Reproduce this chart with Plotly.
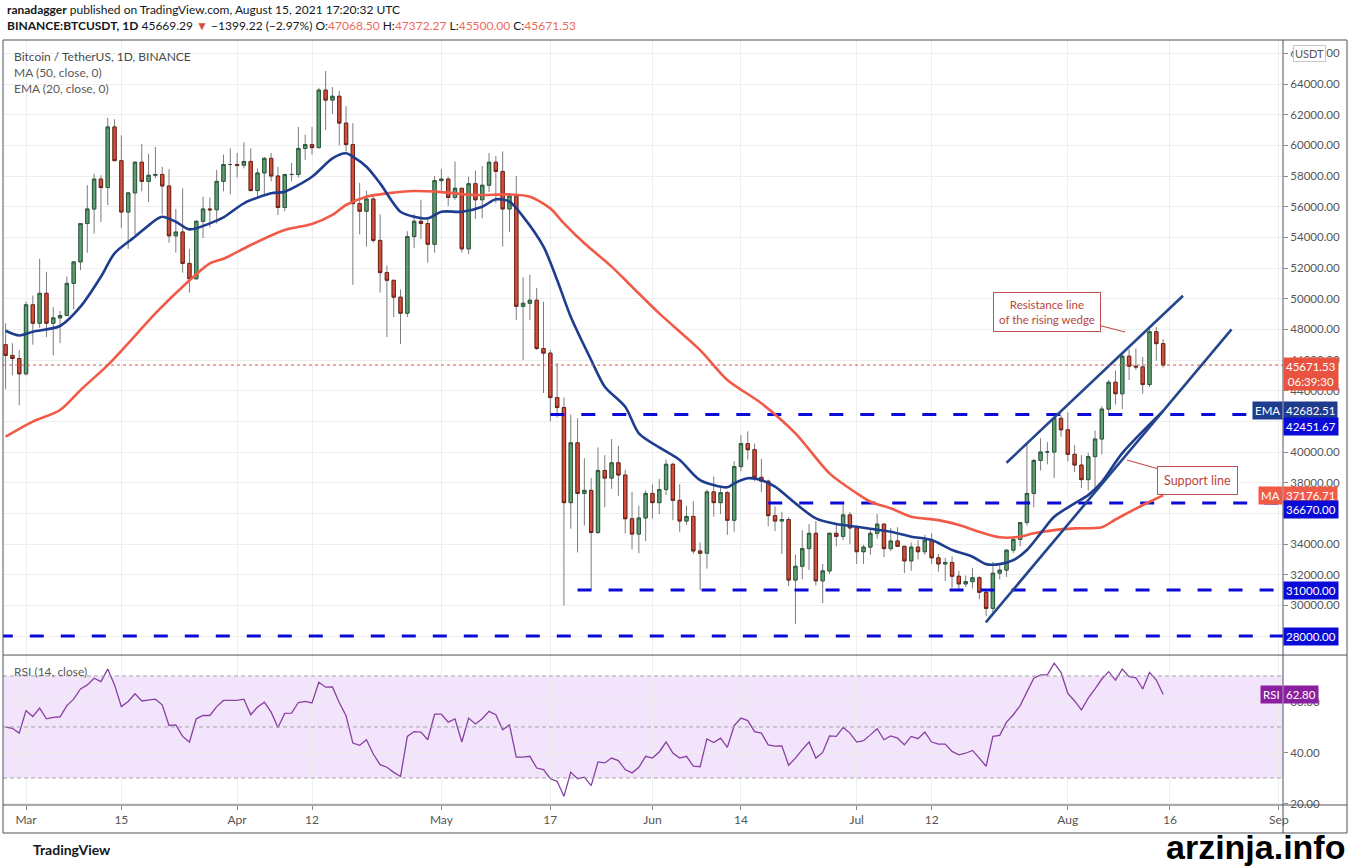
import pandas as pd
import plotly.graph_objects as go

# --- Data: BINANCE:BTCUSDT, 1D, Feb 26 - Aug 15 2021 ---
dates = pd.date_range("2021-02-26", "2021-08-15", freq="D")

opens = [
    47000, 46300, 46100,
    45100, 49600, 48400, 50350, 48400, 48750, 48900, 51000, 52400, 54900, 55850, 57800, 57250, 61200, 59000, 55650,
    56900, 58900, 57650, 58050, 58100, 57350, 54100, 54350, 52300, 51300, 55050, 55850, 55800, 57650, 58750,
    58750, 58700, 58950, 57050, 58200, 59150, 58000, 55950, 58100, 58100, 59800, 60050, 59850, 63600, 62950,
    63200, 61450, 60050, 56200, 55700, 56500, 53800, 51700, 51200, 50100, 49050, 54050, 55050, 54900, 53550,
    57700, 57800, 56600, 57200, 53250, 57500, 56450, 57400, 58900, 58300, 55850, 56700, 49500, 49700, 49900, 46750,
    46450, 43550, 42900, 36700, 40600, 37300, 37500, 34750, 38800, 38300, 39300, 38500, 35650, 34650, 35700,
    37300, 36700, 37550, 39200, 36850, 35500, 35800, 33550, 33400, 37400, 36700, 37350, 35550, 39050, 40550,
    40150, 38350, 38100, 35850, 35500, 35600, 31650, 32550, 33700, 34700, 31600, 32250, 34700, 34500, 35900,
    35050, 33500, 33800, 34700, 35300, 33700, 34200, 33850, 32900, 33800, 33500, 34250, 33100, 32700, 32800, 31900,
    31400, 31550, 31800, 30850, 29800, 32100, 32300, 33600, 34300, 35400, 37300, 39450, 40000, 40000, 42200,
    41450, 39850, 39150, 38200, 39700, 40850, 42800, 44550, 43800, 46250, 45600, 45550, 44400, 47850, 47068.50,
]
highs = [
    48400, 47100, 46650,
    49800, 50200, 52600, 51750, 49450, 49200, 51450, 52400, 54900, 57400, 58150, 58050, 61800, 61700, 60650,
    56950, 58950, 60100, 59450, 59900, 58600, 58450, 55850, 57200, 53250, 55100, 56650, 56600, 58400, 59400, 59800,
    59500, 60200, 59800, 58500, 59250, 59500, 58600, 58150, 58850, 61200, 60700, 61200, 63750, 64850, 63800,
    63550, 62550, 61450, 57550, 57050, 56800, 55500, 52150, 51200, 50600, 54400, 55500, 56450, 55200, 58000,
    58450, 57950, 58950, 57200, 57950, 58350, 58650, 59500, 59300, 59600, 56900, 58000, 51400, 51550, 50700, 49800,
    46650, 45800, 43550, 42450, 42200, 39600, 38300, 40300, 39800, 40850, 40400, 38850, 37400, 36500, 37500,
    37900, 38250, 39500, 39300, 37900, 36500, 36800, 34100, 37550, 38400, 37700, 37450, 39400, 41100, 41350,
    40550, 39550, 38200, 36450, 36100, 35750, 33300, 34900, 35300, 35500, 32700, 34750, 35300, 36600, 36100,
    35050, 33950, 34950, 35950, 35300, 35050, 35100, 33900, 34100, 34250, 34600, 34700, 33350, 33100, 33200, 32250,
    31950, 32450, 31900, 31050, 32850, 32600, 33650, 34500, 35400, 40550, 39550, 40900, 40650, 42300, 42400,
    42600, 40450, 39800, 39950, 41400, 43000, 44700, 45300, 46450, 46700, 46750, 46200, 48150, 48150, 47372.27,
]
lows = [
    44100, 45000, 43050,
    45000, 47000, 48100, 47500, 46300, 47100, 48900, 49300, 51850, 53000, 54250, 55000, 56100, 59000, 54600,
    53250, 54150, 57000, 56300, 57850, 55500, 53650, 53000, 51700, 50400, 51250, 53950, 54650, 54900, 57000, 56800,
    57900, 58500, 57000, 56500, 56800, 57650, 55450, 55700, 57650, 57900, 59050, 59400, 59800, 61000, 62050,
    60000, 59600, 50900, 54200, 53400, 53650, 50400, 47500, 48800, 47050, 48800, 53300, 53900, 52350, 53000,
    57050, 56050, 56450, 53000, 52900, 55200, 55250, 56950, 56250, 53400, 54350, 48600, 46000, 48600, 46650, 43850,
    42000, 42250, 30000, 35000, 33450, 35200, 31050, 34650, 36400, 37600, 37150, 34700, 33650, 33400, 34200,
    35650, 35950, 37200, 35550, 34800, 35250, 33350, 31000, 32400, 35800, 35950, 34600, 34800, 38750, 39500,
    38100, 37400, 35150, 34850, 33350, 31250, 28800, 31700, 32300, 31300, 30150, 32050, 33850, 34250, 34000,
    32700, 32700, 33300, 34350, 33150, 33550, 33800, 32100, 32250, 33000, 33300, 32700, 32200, 31600, 31150, 31050,
    31200, 31100, 30400, 29300, 29500, 31700, 31850, 33400, 33850, 35200, 36400, 38800, 39200, 38300, 41000,
    39400, 38700, 37650, 37500, 37300, 39850, 42450, 43100, 42800, 44700, 45350, 43800, 44250, 45950, 45500.00,
]
closes = [
    46300, 46100, 45100,
    49600, 48400, 50350, 48400, 48750, 48900, 51000, 52400, 54900, 55850, 57800, 57250, 61200, 59000, 55650,
    56900, 58900, 57650, 58050, 58100, 57350, 54100, 54350, 52300, 51300, 55050, 55850, 55800, 57650, 58750, 58750,
    58700, 58950, 57050, 58200, 59150, 58000, 55950, 58100, 58100, 59800, 60050, 59850, 63600, 62950, 63200,
    61450, 60050, 56200, 55700, 56500, 53800, 51700, 51200, 50100, 49050, 54050, 55050, 54900, 53550, 57700,
    57800, 56600, 57200, 53250, 57500, 56450, 57400, 58900, 58300, 55850, 56700, 49500, 49700, 49900, 46750, 46450,
    43550, 42900, 36700, 40600, 37300, 37500, 34750, 38800, 38300, 39300, 38500, 35650, 34650, 35700, 37300,
    36700, 37550, 39200, 36850, 35500, 35800, 33550, 33400, 37400, 36700, 37350, 35550, 39050, 40550, 40150,
    38350, 38100, 35850, 35500, 35600, 31650, 32550, 33700, 34700, 31600, 32250, 34700, 34500, 35900, 35050,
    33500, 33800, 34700, 35300, 33700, 34200, 33850, 32900, 33800, 33500, 34250, 33100, 32700, 32800, 31900, 31400,
    31550, 31800, 30850, 29800, 32100, 32300, 33600, 34300, 35400, 37300, 39450, 40000, 40000, 42200, 41450,
    39850, 39150, 38200, 39700, 40850, 42800, 44550, 43800, 46250, 45600, 45550, 44400, 47850, 47068.50, 45671.53,
]

# EMA (20) and MA (50) read at sample dates
ema_dates = ["2021-02-26", "2021-02-28", "2021-03-02", "2021-03-06", "2021-03-09", "2021-03-12", "2021-03-14",
             "2021-03-17", "2021-03-20", "2021-03-21", "2021-03-23", "2021-03-25", "2021-03-28", "2021-03-30",
             "2021-04-02", "2021-04-06", "2021-04-08", "2021-04-12", "2021-04-15", "2021-04-17", "2021-04-18",
             "2021-04-20", "2021-04-22", "2021-04-25", "2021-04-27", "2021-04-29", "2021-05-01", "2021-05-04",
             "2021-05-07", "2021-05-09", "2021-05-11", "2021-05-13", "2021-05-16", "2021-05-18", "2021-05-20",
             "2021-05-23", "2021-05-25", "2021-05-28", "2021-05-30", "2021-06-02", "2021-06-05", "2021-06-08",
             "2021-06-12", "2021-06-13", "2021-06-15", "2021-06-17", "2021-06-19", "2021-06-22", "2021-06-25",
             "2021-06-28", "2021-07-01", "2021-07-03", "2021-07-06", "2021-07-09", "2021-07-12", "2021-07-15",
             "2021-07-18", "2021-07-20", "2021-07-22", "2021-07-24", "2021-07-26", "2021-07-28", "2021-07-30",
             "2021-08-02", "2021-08-04", "2021-08-06", "2021-08-09", "2021-08-15"]
ema_values = [47910, 47600, 47850, 48220, 49480, 51430, 52960,
              54040, 55130, 55345, 55020, 54520, 54910, 55300,
              56220, 56870, 56980, 57950, 59150, 59480, 59260,
              58600, 57520, 55670, 55350, 55240, 55670, 55670,
              56000, 56480, 56330, 55350, 53390, 51220, 48820,
              46000, 44260, 42950, 41220, 40300, 39480, 38170,
              37700, 37960, 38290, 38170, 37740, 36650, 35670,
              35300, 35130, 35000, 34800, 34480, 34260, 33610,
              33170, 32690, 32690, 32950, 33610, 34700, 35780,
              36650, 37190, 38060, 39930, 42682.51]

ma_dates = ["2021-02-26", "2021-03-02", "2021-03-06", "2021-03-09", "2021-03-13", "2021-03-16", "2021-03-20",
            "2021-03-24", "2021-03-28", "2021-03-30", "2021-04-03", "2021-04-08", "2021-04-12", "2021-04-15",
            "2021-04-17", "2021-04-20", "2021-04-23", "2021-04-27", "2021-05-01", "2021-05-06", "2021-05-11",
            "2021-05-14", "2021-05-17", "2021-05-19", "2021-05-22", "2021-05-26", "2021-05-29", "2021-06-02",
            "2021-06-08", "2021-06-12", "2021-06-17", "2021-06-22", "2021-06-27", "2021-07-01", "2021-07-03",
            "2021-07-06", "2021-07-09", "2021-07-13", "2021-07-16", "2021-07-19", "2021-07-22", "2021-07-25",
            "2021-07-27", "2021-07-30", "2021-08-02", "2021-08-06", "2021-08-08", "2021-08-13", "2021-08-15"]
ma_values = [41000, 41980, 42740, 44040, 45670, 47090, 49040,
             50780, 52300, 52600, 53500, 54480, 54870, 55460,
             56110, 56650, 56870, 57020, 56950, 56760, 56800,
             56650, 55890, 54910, 53610, 52090, 50780, 49040,
             46650, 44700, 43180, 41220, 38610, 37310, 36760,
             36330, 35780, 35560, 35240, 34800, 34440, 34480,
             34700, 34910, 35020, 35100, 35600, 36760, 37176.71]

# RSI (14, close), one value per candle
rsi = [
    49.9, 49.5, 47.6,
    56.4, 54.1, 57.4, 53.2, 53.8, 54.0, 58.4, 60.9, 64.9, 66.5, 69.1, 67.8, 72.7, 66.5, 58.0, 60.0,
    63.0, 60.2, 60.7, 60.9, 58.7, 50.6, 50.8, 46.3, 44.1, 53.2, 54.5, 54.5, 58.0, 60.4, 60.4,
    60.4, 60.9, 54.8, 57.8, 59.7, 55.8, 49.8, 55.3, 55.4, 59.6, 60.0, 59.4, 67.5, 65.6, 65.7,
    59.6, 54.4, 43.7, 42.8, 45.0, 39.4, 35.2, 34.2, 32.2, 30.6, 46.3, 48.2, 48.0, 45.0, 55.0,
    55.0, 51.9, 53.2, 44.1, 53.5, 51.2, 53.2, 56.1, 54.8, 48.9, 50.8, 38.2, 38.2, 38.5, 33.9, 33.3,
    29.7, 28.7, 22.8, 32.3, 29.7, 30.3, 27.0, 36.3, 35.9, 37.8, 36.8, 33.3, 32.0, 34.2, 38.5,
    37.8, 40.2, 44.1, 39.8, 37.8, 38.5, 34.6, 34.4, 45.3, 43.9, 45.6, 42.0, 50.5, 53.5, 52.5,
    48.2, 47.6, 43.0, 42.5, 42.6, 35.0, 37.8, 41.1, 44.1, 37.8, 40.0, 46.5, 46.3, 49.8, 47.6,
    44.1, 44.6, 46.9, 49.3, 45.0, 46.5, 45.6, 43.0, 46.3, 45.4, 48.0, 44.1, 43.3, 43.3, 40.4, 39.1,
    39.7, 40.8, 37.8, 34.6, 46.3, 46.7, 51.9, 54.8, 58.4, 63.9, 69.1, 70.4, 70.4, 75.0, 71.4,
    63.2, 60.2, 56.7, 61.3, 64.9, 68.8, 71.7, 68.4, 72.7, 69.7, 69.3, 64.9, 71.4, 68.4, 62.8,
]

# horizontal support / resistance levels and where they begin
level_values = [42451.67, 36670.00, 31000.00, 28000.00]
level_starts = ["2021-05-17", "2021-06-18", "2021-05-21", "2021-02-25"]

# rising wedge trend lines (two points each)
resistance_dates = ["2021-07-23 00:00", "2021-08-17 22:00"]
resistance_prices = [39300, 50190]
support_dates = ["2021-07-19 23:00", "2021-08-25 01:00"]
support_prices = [28890, 48000]

x_ticks = ["2021-03-01", "2021-03-15", "2021-04-01", "2021-04-12", "2021-05-01", "2021-05-17", "2021-06-01",
           "2021-06-14", "2021-07-01", "2021-07-12", "2021-08-01", "2021-08-16", "2021-09-01"]
x_labels = ["Mar", "15", "Apr", "12", "May", "17", "Jun", "14", "Jul", "12", "Aug", "16", "Sep"]
x_start, x_end = "2021-02-25 14:50", "2021-09-01 14:30"

price_ticks = list(range(28000, 66001, 2000))
hidden_ticks = [28000, 36000, 42000]  # sit under the level tags on the original

# --- styling ---
FONT = "Lato"
GRID = "#eeeeee"
UP_FILL, UP_LINE = "#5d9e72", "#2d5a3c"
DN_FILL, DN_LINE = "#d44e3a", "#6d261b"
WICK = "#7d7d7d"
EMA_COL = "#1f3d8f"
MA_COL = "#f05a47"
LEVEL_COL = "#0b0bd8"
WEDGE_COL = "#24468c"
RSI_COL = "#8a3fa3"
RED_TXT = "#ec6a5c"

fig = go.Figure()

# dashed horizontal levels
for v, s in zip(level_values, level_starts):
    fig.add_trace(go.Scatter(x=[s, x_end], y=[v, v], mode="lines",
                             line=dict(color=LEVEL_COL, width=3, dash="14px,17px"), hoverinfo="skip"))

# wicks (grey), then bodies on top
fig.add_trace(go.Candlestick(
    x=dates, open=opens, high=highs, low=lows, close=closes,
    increasing=dict(line=dict(color=WICK, width=1), fillcolor=WICK),
    decreasing=dict(line=dict(color=WICK, width=1), fillcolor=WICK),
    whiskerwidth=0, hoverinfo="skip"))
body_hi = [max(o, c) for o, c in zip(opens, closes)]
body_lo = [min(o, c) for o, c in zip(opens, closes)]
fig.add_trace(go.Candlestick(
    x=dates, open=opens, high=body_hi, low=body_lo, close=closes,
    increasing=dict(line=dict(color=UP_LINE, width=1), fillcolor=UP_FILL),
    decreasing=dict(line=dict(color=DN_LINE, width=1), fillcolor=DN_FILL),
    whiskerwidth=0, hoverinfo="skip"))

# moving averages
fig.add_trace(go.Scatter(x=ma_dates, y=ma_values, mode="lines",
                         line=dict(color=MA_COL, width=2.6, shape="spline", smoothing=0.8)))
fig.add_trace(go.Scatter(x=ema_dates, y=ema_values, mode="lines",
                         line=dict(color=EMA_COL, width=2.6, shape="spline", smoothing=0.8)))

# wedge lines
fig.add_trace(go.Scatter(x=resistance_dates, y=resistance_prices, mode="lines",
                         line=dict(color=WEDGE_COL, width=2.6)))
fig.add_trace(go.Scatter(x=support_dates, y=support_prices, mode="lines",
                         line=dict(color=WEDGE_COL, width=2.6)))

# RSI pane
fig.add_trace(go.Scatter(x=dates, y=rsi, mode="lines", yaxis="y2",
                         line=dict(color=RSI_COL, width=1.3)))

shapes = [
    dict(type="rect", xref="paper", x0=0, x1=1, yref="y2", y0=30, y1=70,
         fillcolor="#f2e5fb", line=dict(width=0), layer="below"),
    dict(type="line", xref="paper", x0=0, x1=1, yref="y", y0=closes[-1], y1=closes[-1],
         line=dict(color="#e0573f", width=1, dash="dot")),
]
for lv in [70, 50, 30]:
    shapes.append(dict(type="line", xref="paper", x0=0, x1=1, yref="y2", y0=lv, y1=lv,
                       line=dict(color="#a3a3a8", width=1, dash="4px,3px")))
# chart frame and pane separators
frame = dict(color="#50535e", width=1)
shapes += [
    dict(type="rect", xref="paper", yref="paper", x0=0, x1=1.05, y0=-0.0366, y1=1.0, line=frame),
    dict(type="line", xref="paper", yref="paper", x0=0, x1=1.05, y0=0.196, y1=0.196, line=frame),
    dict(type="line", xref="paper", yref="paper", x0=0, x1=1.05, y0=0, y1=0, line=frame),
    dict(type="line", xref="paper", yref="paper", x0=1.0, x1=1.0, y0=-0.0366, y1=1.0, line=frame),
]


def tag(y, text, color, yref="y", yshift=0, side="left"):
    return dict(xref="paper", x=1.0, xanchor=side, yref=yref, y=y, yanchor="middle",
                text=text, showarrow=False, bgcolor=color, borderpad=2, yshift=yshift,
                font=dict(family=FONT, size=11.5, color="white"))


annotations = [
    dict(xref="paper", yref="paper", x=0.0015, y=1.040, xanchor="left", yanchor="middle", showarrow=False,
         text="<b>ranadagger</b> published on TradingView.com, August 15, 2021 17:20:32 UTC",
         font=dict(family=FONT, size=12, color="#131722")),
    dict(xref="paper", yref="paper", x=0.0015, y=1.019, xanchor="left", yanchor="middle", showarrow=False,
         text=(f"<b>BINANCE:BTCUSDT, 1D</b> 45669.29 <span style='color:{DN_FILL}'>▼</span> −1399.22 (−2.97%) "
               f"O:<span style='color:{RED_TXT}'>47068.50</span> H:<span style='color:{RED_TXT}'>47372.27</span> "
               f"L:<span style='color:{RED_TXT}'>45500.00</span> C:<span style='color:{RED_TXT}'>45671.53</span>"),
         font=dict(family=FONT, size=12, color="#131722")),
    dict(xref="paper", yref="paper", x=0.007, y=0.979, xanchor="left", yanchor="middle", showarrow=False,
         text="Bitcoin / TetherUS, 1D, BINANCE", font=dict(family=FONT, size=12, color="#4a4a4a")),
    dict(xref="paper", yref="paper", x=0.007, y=0.958, xanchor="left", yanchor="middle", showarrow=False,
         text="MA (50, close, 0)", font=dict(family=FONT, size=12, color="#5a5a5a")),
    dict(xref="paper", yref="paper", x=0.007, y=0.937, xanchor="left", yanchor="middle", showarrow=False,
         text="EMA (20, close, 0)", font=dict(family=FONT, size=12, color="#5a5a5a")),
    dict(xref="paper", yref="paper", x=0.007, y=0.175, xanchor="left", yanchor="middle", showarrow=False,
         text="RSI (14, close)", font=dict(family=FONT, size=12, color="#5a5a5a")),
    dict(xref="paper", yref="paper", x=1.021, y=0.9817, xanchor="center", yanchor="middle", showarrow=False,
         text="USDT", bgcolor="white", bordercolor="#c9c9c9", borderwidth=1, borderpad=1,
         font=dict(family=FONT, size=11, color="#555")),
    # callouts
    dict(x="2021-08-09 10:00", y=47825, ax=-78, ay=-20, text="Resistance line<br>of the rising wedge",
         showarrow=True, arrowhead=0, arrowwidth=1.2, arrowcolor="#c0504d",
         bgcolor="white", bordercolor="#c0504d", borderwidth=1, borderpad=5,
         font=dict(family=FONT, size=11.5, color="#b8453e")),
    dict(x="2021-08-09 16:00", y=39480, ax=71, ay=20, text="Support line",
         showarrow=True, arrowhead=0, arrowwidth=1.2, arrowcolor="#c0504d",
         bgcolor="white", bordercolor="#c0504d", borderwidth=1, borderpad=6,
         font=dict(family=FONT, size=12.5, color="#b8453e")),
    # price-axis tags
    dict(tag(closes[-1], f"{closes[-1]:.2f}<br>06:39:30", "#e9523f"), yanchor="top", yshift=8),
    tag(ema_values[-1], "EMA", EMA_COL, side="right"),
    tag(ema_values[-1], f"{ema_values[-1]:.2f}", EMA_COL),
    tag(level_values[0], f"{level_values[0]:.2f}", LEVEL_COL, yshift=-12),
    tag(ma_values[-1], "MA", MA_COL, side="right"),
    tag(ma_values[-1], f"{ma_values[-1]:.2f}", MA_COL),
    tag(level_values[1], f"{level_values[1]:.2f}", LEVEL_COL, yshift=-6),
    tag(level_values[2], f"{level_values[2]:.2f}", LEVEL_COL),
    tag(level_values[3], f"{level_values[3]:.2f}", LEVEL_COL),
    tag(rsi[-1], "RSI", "#8b1f9f", yref="y2", side="right"),
    tag(rsi[-1], f"{rsi[-1]:.2f}", "#8b1f9f", yref="y2"),
    # footer
    dict(xref="paper", yref="paper", x=0.022, y=-0.0588, xanchor="left", yanchor="middle", showarrow=False,
         text="<b>TradingView</b>", font=dict(family=FONT, size=14, color="#131722")),
    dict(xref="paper", yref="paper", x=1.05, y=-0.0555, xanchor="right", yanchor="middle", showarrow=False,
         text="<b>arzinja.info</b>", font=dict(family="Liberation Sans", size=34, color="black")),
]

fig.update_layout(
    width=1352, height=866,
    margin=dict(l=3, r=69, t=40, b=61),
    paper_bgcolor="white", plot_bgcolor="white",
    showlegend=False,
    font=dict(family=FONT, size=12, color="#555"),
    xaxis=dict(type="date", range=[x_start, x_end], anchor="y2",
               tickvals=x_ticks, ticktext=x_labels, showgrid=True, gridcolor=GRID,
               ticks="outside", ticklen=4, tickcolor="#888", zeroline=False,
               rangeslider=dict(visible=False), tickfont=dict(size=12, color="#555")),
    yaxis=dict(domain=[0.196, 1], side="right", range=[26760, 66870], anchor="x",
               tickvals=price_ticks,
               ticktext=["" if t in hidden_ticks else f"{t:.2f}" for t in price_ticks],
               showgrid=True, gridcolor=GRID, zeroline=False,
               ticks="outside", ticklen=4, tickcolor="#888", tickfont=dict(size=11.5, color="#555")),
    yaxis2=dict(domain=[0, 0.196], side="right", range=[19.4, 78.2], anchor="x",
                tickvals=[20, 40, 60], tickformat=".2f",
                showgrid=True, gridcolor=GRID, zeroline=False,
                ticks="outside", ticklen=4, tickcolor="#888", tickfont=dict(size=11.5, color="#555")),
    shapes=shapes,
    annotations=annotations,
)

# page has a default 8px body margin; drop it so the figure sits at the window's corner
fig.write_html("out.html", config={"displayModeBar": False},
               post_script="document.body.style.margin='0';")
